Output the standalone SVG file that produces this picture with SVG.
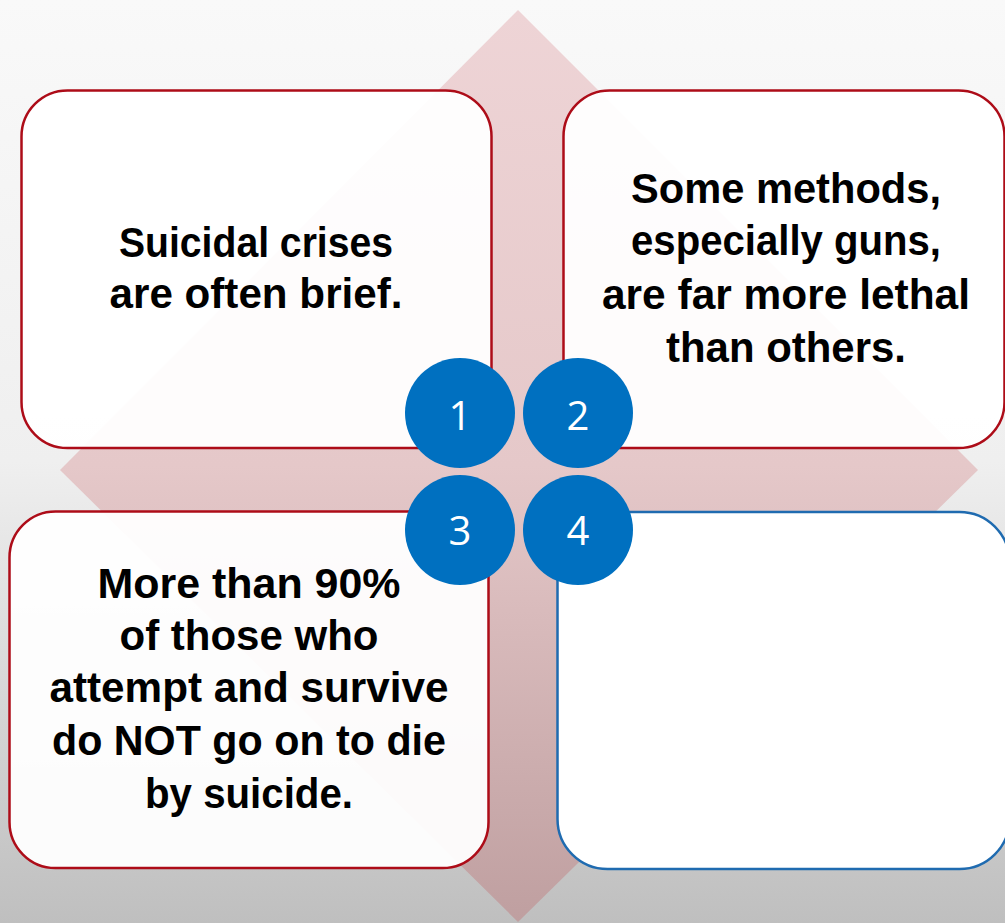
<svg xmlns="http://www.w3.org/2000/svg" width="1005" height="923" viewBox="0 0 1005 923">
<defs>
<linearGradient id="bg" x1="0" y1="0" x2="0" y2="1">
<stop offset="0" stop-color="#f9f9f9"/>
<stop offset="0.5" stop-color="#efefef"/>
<stop offset="1" stop-color="#bfbfbf"/>
</linearGradient>
<linearGradient id="dia" x1="0" y1="0" x2="0" y2="1">
<stop offset="0" stop-color="#eed4d6"/>
<stop offset="0.5" stop-color="#e5c8c9"/>
<stop offset="1" stop-color="#bf9fa0"/>
</linearGradient>
<style>
.box{fill:#ffffff;fill-opacity:0.94;stroke:#ad0c18;stroke-width:2.5}
.boxb{fill:#ffffff;stroke:#1f6bb0;stroke-width:2.5}
.t{font-family:"Liberation Sans",Arial,sans-serif;font-weight:bold;font-size:42px;fill:#000;text-anchor:middle}
.c{fill:#0070c0}
.n{font-family:"Open Sans","Liberation Sans",sans-serif;font-size:40px;fill:#fff;text-anchor:middle}
</style>
</defs>
<rect x="0" y="0" width="1005" height="923" fill="url(#bg)"/>
<polygon points="518,10 978,470 518,922 60,470" fill="url(#dia)"/>
<g id="connectors"/>
<g id="node1">
<rect class="box" x="21.5" y="90.5" width="470" height="357.5" rx="46"/>
<text class="t" x="256" y="257" textLength="274" lengthAdjust="spacingAndGlyphs">Suicidal crises</text>
<text class="t" x="256" y="308" textLength="293" lengthAdjust="spacingAndGlyphs">are often brief.</text>
</g>
<g id="node2">
<rect class="box" x="563.5" y="90.5" width="441" height="357.5" rx="46"/>
<text class="t" x="786" y="203" textLength="310" lengthAdjust="spacingAndGlyphs">Some methods,</text>
<text class="t" x="786" y="255" textLength="310" lengthAdjust="spacingAndGlyphs">especially guns,</text>
<text class="t" x="786" y="309" textLength="368" lengthAdjust="spacingAndGlyphs">are far more lethal</text>
<text class="t" x="786" y="362" textLength="240" lengthAdjust="spacingAndGlyphs">than others.</text>
</g>
<g id="node3">
<rect class="box" x="9.5" y="511.5" width="479" height="356.5" rx="46"/>
<text class="t" x="249" y="598" textLength="303" lengthAdjust="spacingAndGlyphs">More than 90%</text>
<text class="t" x="249" y="650" textLength="259" lengthAdjust="spacingAndGlyphs">of those who</text>
<text class="t" x="249" y="702" textLength="399" lengthAdjust="spacingAndGlyphs">attempt and survive</text>
<text class="t" x="249" y="755" textLength="394" lengthAdjust="spacingAndGlyphs">do NOT go on to die</text>
<text class="t" x="249" y="808" textLength="208" lengthAdjust="spacingAndGlyphs">by suicide.</text>
</g>
<g id="node4">
<rect class="boxb" x="557.5" y="512" width="452" height="357" rx="50"/>
</g>
<g id="badge1"><circle class="c" cx="460" cy="413" r="55"/><text class="n" x="460" y="430">1</text></g>
<g id="badge2"><circle class="c" cx="578" cy="413" r="55"/><text class="n" x="578" y="430">2</text></g>
<g id="badge3"><circle class="c" cx="460" cy="530" r="55"/><text class="n" x="460" y="545">3</text></g>
<g id="badge4"><circle class="c" cx="578" cy="530" r="55"/><text class="n" x="578" y="545">4</text></g>
</svg>
